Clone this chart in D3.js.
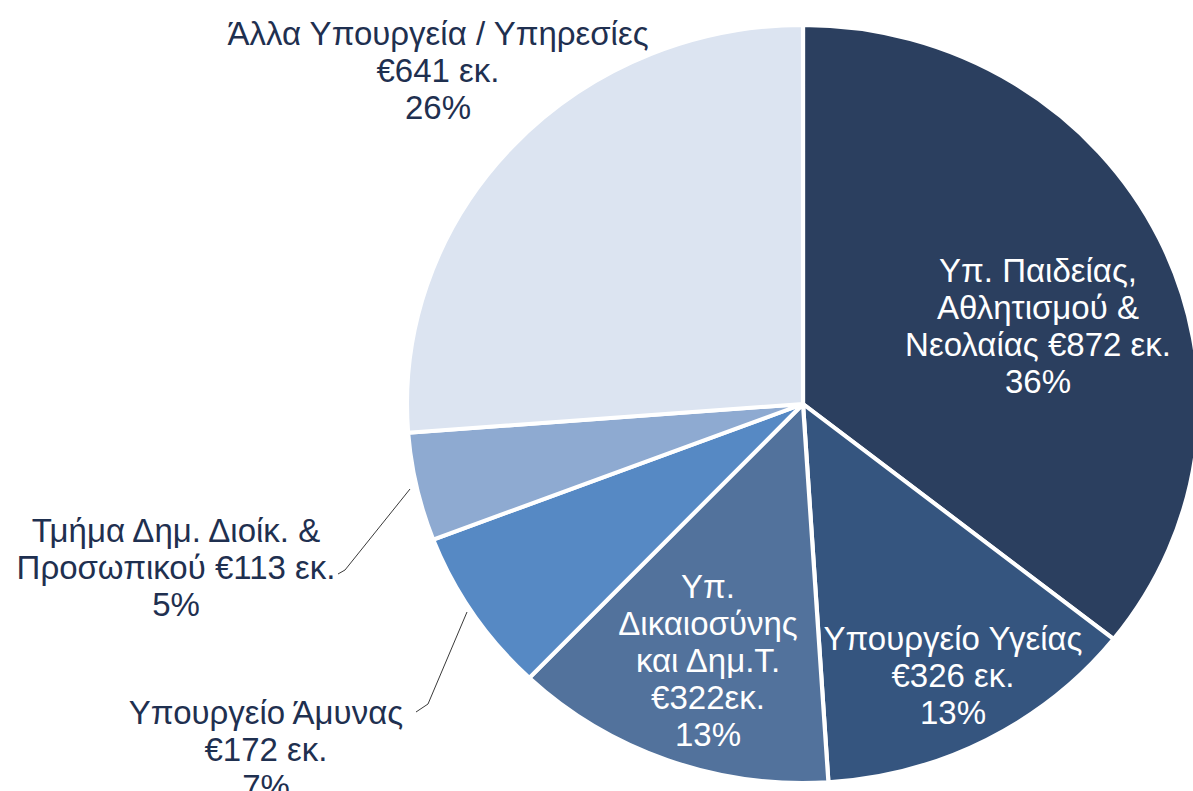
<!DOCTYPE html>
<html>
<head>
<meta charset="utf-8">
<script src="https://cdn.jsdelivr.net/npm/d3@7"></script>
<style>
  body { margin: 0; background: #fff; }
  svg { display: block; font-family: "Liberation Sans", Arial, sans-serif; }
</style>
</head>
<body>
<svg width="1193" height="791"></svg>
<script>
// data
var categories = ["Υπ. Παιδείας, Αθλητισμού & Νεολαίας", "Υπουργείο Υγείας", "Υπ. Δικαιοσύνης και Δημ.Τ.",
                  "Υπουργείο Άμυνας", "Τμήμα Δημ. Διοίκ. & Προσωπικού", "Άλλα Υπουργεία / Υπηρεσίες"];
var values = [872, 326, 322, 172, 113, 641];
var percents = ["36%", "13%", "13%", "7%", "5%", "26%"];
var labelLines = [
    ["Υπ. Παιδείας,", "Αθλητισμού &", "Νεολαίας €872 εκ.", "36%"],
    ["Υπουργείο Υγείας", "€326 εκ.", "13%"],
    ["Υπ.", "Δικαιοσύνης", "και Δημ.Τ.", "€322εκ.", "13%"],
    ["Υπουργείο Άμυνας", "€172 εκ.", "7%"],
    ["Τμήμα Δημ. Διοίκ. &", "Προσωπικού €113 εκ.", "5%"],
    ["Άλλα Υπουργεία / Υπηρεσίες", "€641 εκ.", "26%"]
];

var colors = ["#2b3f5f", "#35557f", "#52729c", "#5689c4", "#8eaad1", "#dce4f1"];
// label positions: centre x, first baseline (layout)
var labelPos = [[1038, 282], [953, 650], [708, 598], [266, 724], [176, 542], [438, 45]];
var lineH = 37;

var svg = d3.select("svg");
var cx = 803, cy = 404, r = 379;

var pie = d3.pie().sort(null).value(function (d) { return d; });
var arc = d3.arc().innerRadius(0).outerRadius(r);

var g = svg.append("g")
    .attr("transform", "translate(" + cx + "," + cy + ") scale(1.045,1)");

g.selectAll("path")
    .data(pie(values))
    .enter().append("path")
    .attr("d", arc)
    .attr("fill", function (d, i) { return colors[i]; })
    .attr("stroke", "#fff")
    .attr("stroke-width", 4)
    .attr("stroke-linejoin", "round");

// leader lines for the small slices
var leaders = [
    { i: 4, pts: [[410, 489], [345, 570], [338, 574]] },
    { i: 3, pts: [[467, 612], [428, 704], [416, 712]] }
];
svg.selectAll("path.leader")
    .data(leaders)
    .enter().append("path")
    .attr("class", "leader")
    .attr("d", function (d) { return d3.line()(d.pts); })
    .attr("fill", "none")
    .attr("stroke", "#3a3a3a")
    .attr("stroke-width", 1);

var inside = [true, true, true, false, false, false];
labelLines.forEach(function (lines, i) {
    var t = svg.append("text")
        .attr("text-anchor", "middle")
        .attr("font-size", 33)
        .attr("fill", inside[i] ? "#ffffff" : "#1f3050");
    lines.forEach(function (s, k) {
        t.append("tspan")
            .attr("x", labelPos[i][0])
            .attr("y", labelPos[i][1] + k * lineH)
            .text(s);
    });
});
</script>
</body>
</html>
